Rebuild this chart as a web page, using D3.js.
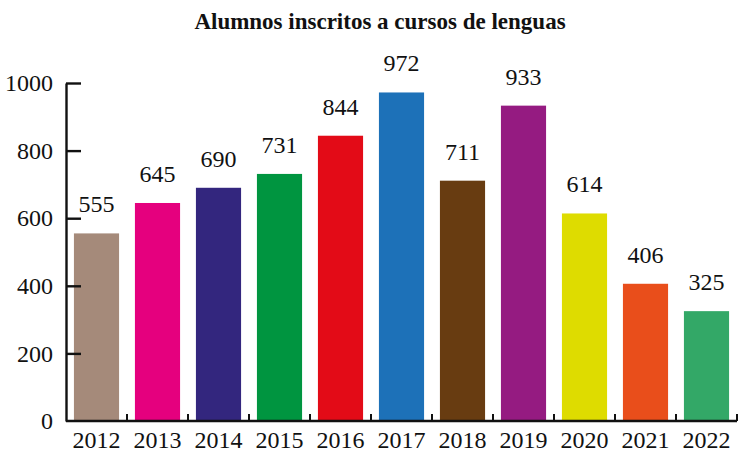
<!DOCTYPE html>
<html>
<head>
<meta charset="utf-8">
<script src="https://cdn.jsdelivr.net/npm/d3@7"></script>
<style>
  body { margin: 0; background: #fff; }
  svg text { font-family: "Liberation Serif", serif; }
</style>
</head>
<body>
<div id="chart"></div>
<script>
const years = ["2012", "2013", "2014", "2015", "2016", "2017", "2018", "2019", "2020", "2021", "2022"];
const students = [555, 645, 690, 731, 844, 972, 711, 933, 614, 406, 325];
const barColors = ["#a58a7a", "#e5007e", "#33267e", "#009540", "#e30b17", "#1d71b8",
                   "#683c11", "#951b81", "#dedc00", "#e94e1b", "#33a867"];
const yTicks = [0, 200, 400, 600, 800, 1000];

const serif = "Liberation Serif";
const width = 740, height = 452;
const margin = { top: 83, right: 3, bottom: 31, left: 66 };
const innerW = width - margin.left - margin.right;
const innerH = height - margin.top - margin.bottom;

const svg = d3.select("#chart").append("svg")
  .attr("width", width)
  .attr("height", height)
  .attr("font-family", serif);

svg.append("text")
  .attr("x", 380)
  .attr("y", 29)
  .attr("text-anchor", "middle")
  .attr("font-family", serif)
  .attr("font-size", 23)
  .attr("font-weight", "bold")
  .attr("fill", "#111")
  .text("Alumnos inscritos a cursos de lenguas");

const g = svg.append("g").attr("transform", `translate(${margin.left},${margin.top})`);

const x = d3.scaleBand().domain(years).range([0, innerW]).paddingInner(0.26).paddingOuter(0.13);
const y = d3.scaleLinear().domain([0, 1000]).range([innerH, 0]);

// bars
g.selectAll("rect.bar")
  .data(years)
  .join("rect")
  .attr("class", "bar")
  .attr("x", d => x(d))
  .attr("y", (d, i) => y(students[i]))
  .attr("width", x.bandwidth())
  .attr("height", (d, i) => innerH - y(students[i]))
  .attr("fill", (d, i) => barColors[i]);

// value labels
g.selectAll("text.val")
  .data(years)
  .join("text")
  .attr("class", "val")
  .attr("x", d => x(d) + x.bandwidth() / 2)
  .attr("y", (d, i) => y(students[i]) - 21)
  .attr("text-anchor", "middle")
  .attr("font-family", serif)
  .attr("font-size", 24)
  .attr("fill", "#111")
  .text((d, i) => String(students[i]));

// y axis
const yAxisG = g.append("g")
  .call(d3.axisLeft(y).tickValues(yTicks).tickFormat(d3.format("d"))
    .tickSize(-15).tickPadding(13).tickSizeOuter(0));
yAxisG.attr("font-family", serif).attr("font-size", 24);
yAxisG.select(".domain").attr("stroke", "#111").attr("stroke-width", 2.4);
yAxisG.selectAll(".tick line").attr("stroke", "#111").attr("stroke-width", 2.4);
yAxisG.selectAll(".tick text")
  .attr("font-family", serif)
  .attr("font-size", 24)
  .attr("fill", "#111");
yAxisG.selectAll(".tick").filter(d => d === 0).select("line").remove();

// x axis: ticks at band boundaries pointing up
const xAxisG = g.append("g").attr("transform", `translate(0,${innerH})`);
xAxisG.append("line")
  .attr("x1", 0).attr("x2", innerW)
  .attr("stroke", "#111").attr("stroke-width", 2.4);
xAxisG.selectAll("line.tick")
  .data(years)
  .join("line")
  .attr("class", "tick")
  .attr("x1", d => x(d) + x.bandwidth() + x.step() * x.paddingInner() / 2)
  .attr("x2", d => x(d) + x.bandwidth() + x.step() * x.paddingInner() / 2)
  .attr("y1", 0).attr("y2", -7)
  .attr("stroke", "#111").attr("stroke-width", 2);
xAxisG.selectAll("text")
  .data(years)
  .join("text")
  .attr("x", d => x(d) + x.bandwidth() / 2)
  .attr("y", 27)
  .attr("text-anchor", "middle")
  .attr("font-family", serif)
  .attr("font-size", 24)
  .attr("fill", "#111")
  .text(d => d);
</script>
</body>
</html>
